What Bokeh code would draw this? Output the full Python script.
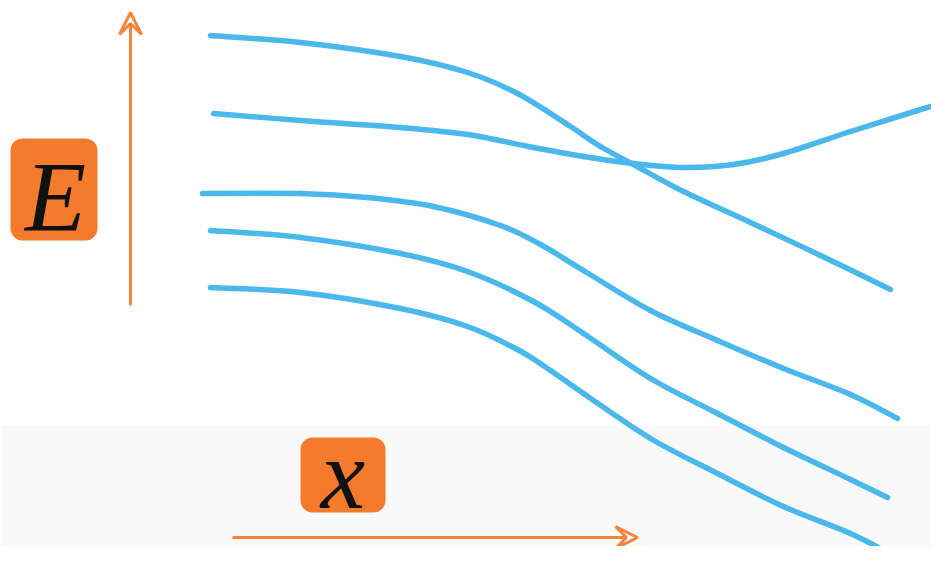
from bokeh.plotting import figure
from bokeh.models import Range1d, Arrow, VeeHead
from bokeh.core.properties import value
from bokeh.embed import file_html
from bokeh.resources import INLINE

# Energy level curves (schematic in pixel-like units, y downward)
c1_x = [210, 300, 400, 467, 517, 567, 600, 633, 683, 750, 820, 890]
c1_y = [35, 42, 56, 72, 93, 124, 146, 164, 191, 222, 255, 289]
c2_x = [213, 300, 400, 467, 533, 583, 633, 683, 733, 783, 850, 917, 947]
c2_y = [113, 120, 127, 134, 147, 156, 163, 167, 164, 153, 131, 110, 101]
c3_x = [202, 300, 367, 433, 500, 540, 583, 650, 717, 783, 850, 897]
c3_y = [193, 193, 197, 206, 225, 244, 270, 310, 340, 368, 394, 418]
c4_x = [210, 300, 400, 467, 533, 583, 650, 717, 783, 850, 887]
c4_y = [230, 237, 253, 271, 301, 333, 378, 413, 447, 479, 497]
c5_x = [210, 300, 400, 467, 517, 550, 583, 650, 717, 783, 850, 887]
c5_y = [287, 292, 308, 326, 349, 370, 393, 438, 473, 506, 533, 552]
curves = [(c1_x, c1_y), (c2_x, c2_y), (c3_x, c3_y), (c4_x, c4_y), (c5_x, c5_y)]

labels = ["E", "x"]


def smooth_segments(xs, ys):
    """Catmull-Rom spline through the read points, as cubic Bezier segments."""
    n = len(xs)
    seg = {k: [] for k in ("x0", "y0", "x1", "y1", "cx0", "cy0", "cx1", "cy1")}
    for i in range(n - 1):
        xp, yp = (xs[i - 1], ys[i - 1]) if i > 0 else (xs[i], ys[i])
        xn, yn = (xs[i + 2], ys[i + 2]) if i + 2 < n else (xs[i + 1], ys[i + 1])
        seg["x0"].append(xs[i]); seg["y0"].append(ys[i])
        seg["x1"].append(xs[i + 1]); seg["y1"].append(ys[i + 1])
        seg["cx0"].append(xs[i] + (xs[i + 1] - xp) / 6)
        seg["cy0"].append(ys[i] + (ys[i + 1] - yp) / 6)
        seg["cx1"].append(xs[i + 1] - (xn - xs[i]) / 6)
        seg["cy1"].append(ys[i + 1] - (yn - ys[i]) / 6)
    return seg


p = figure(width=931, height=546, output_backend="svg", toolbar_location=None,
           x_range=Range1d(0, 931), y_range=Range1d(546, 0),
           min_border=0, outline_line_color=None)
p.axis.visible = False
p.grid.visible = False
p.background_fill_color = "white"

# faint lower band
p.quad(left=0, right=931, top=425, bottom=546, fill_color="#f9f9f9", line_color=None)

for xs, ys in curves:
    s = smooth_segments(xs, ys)
    p.bezier(x0=s["x0"], y0=s["y0"], x1=s["x1"], y1=s["y1"],
             cx0=s["cx0"], cy0=s["cy0"], cx1=s["cx1"], cy1=s["cy1"],
             line_color="#4ab8ea", line_width=5.5, line_cap="round")

orange = "#f5843f"
p.add_layout(Arrow(end=VeeHead(size=22, line_color=orange, line_width=3, fill_color=None),
                   x_start=130, y_start=305, x_end=130, y_end=12,
                   line_color=orange, line_width=3))
p.add_layout(Arrow(end=VeeHead(size=22, line_color=orange, line_width=3, fill_color=None),
                   x_start=232, y_start=537, x_end=637, y_end=537,
                   line_color=orange, line_width=3))

p.rect(x=[53.5, 342.5], y=[189, 474.5], width=[87, 85], height=[102, 75],
       fill_color="#f47a2e", line_color=None, border_radius=12)
p.text(x=[55, 342.5], y=[196, 474], text=labels, text_font=value("Liberation Serif"),
       text_font_style="italic", text_font_size="100px", text_color="#111111",
       text_align="center", text_baseline="middle")

open("out.html", "w").write(file_html(p, INLINE))
